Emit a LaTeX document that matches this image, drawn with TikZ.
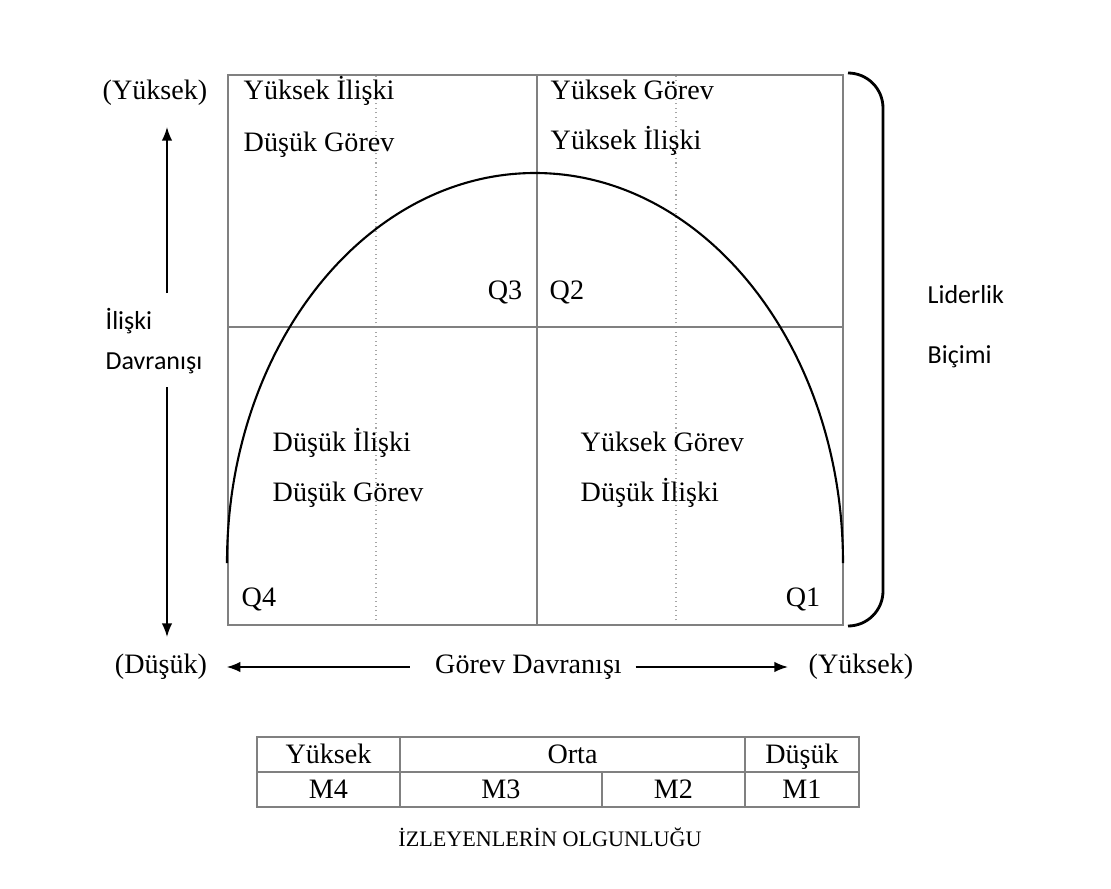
\documentclass[tikz,border=0pt]{standalone}
\usepackage{fontspec}
\setmainfont{Liberation Serif}
\newfontfamily\calfont{Carlito}
\usetikzlibrary{arrows.meta}

\begin{document}
\begin{tikzpicture}[
    metin/.style={inner sep=0pt, text height=2ex, text depth=1.15ex, font=\fontsize{8}{9.6}\selectfont},
    sans/.style={inner sep=0pt, text height=2ex, text depth=0.55ex, font=\calfont\fontsize{7.4}{9}\selectfont},
    ok/.style={line width=0.45pt, -{Latex[length=3.9pt,width=3pt]}},
    cizgi/.style={line width=0.6pt, black!50},
    nokta/.style={densely dotted, line width=0.3pt, black!35}
]
    \useasboundingbox (0,0) rectangle (11.11,8.88);

    % noktali cizgiler
    \draw[nokta] (3.76,2.63) -- (3.76,8.13);
    \draw[nokta] (6.76,2.63) -- (6.76,8.13);

    % kutu
    \draw[cizgi] (2.28,2.63) rectangle (8.43,8.13);
    \draw[cizgi] (5.37,2.63) -- (5.37,8.13);
    \draw[cizgi] (2.28,5.61) -- (8.43,5.61);

    % egri
    \draw[line width=0.6pt] (2.27,3.25) arc[start angle=180, end angle=0, x radius=3.08, y radius=3.90];

    % ayrac
    \draw[line width=0.8pt, rounded corners=0.35cm] (8.48,8.15) -- (8.83,8.15) -- (8.83,2.62) -- (8.48,2.62);

    % bolge yazilari
    \node[metin, anchor=west] (q3a) at (2.43,7.95) {Yüksek İlişki};
    \node[metin, anchor=west] (q3b) at (2.43,7.43) {Düşük Görev};
    \node[metin, anchor=west] (q2a) at (5.50,7.95) {Yüksek Görev};
    \node[metin, anchor=west] (q2b) at (5.50,7.45) {Yüksek İlişki};
    \node[metin, anchor=west] (q4a) at (2.72,4.43) {Düşük İlişki};
    \node[metin, anchor=west] (q4b) at (2.72,3.93) {Düşük Görev};
    \node[metin, anchor=west] (q1a) at (5.80,4.43) {Yüksek Görev};
    \node[metin, anchor=west] (q1b) at (5.80,3.93) {Düşük İlişki};

    \node[metin, anchor=east] (Q3) at (5.23,5.95) {Q3};
    \node[metin, anchor=west] (Q2) at (5.49,5.95) {Q2};
    \node[metin, anchor=west] (Q4) at (2.41,2.88) {Q4};
    \node[metin, anchor=east] (Q1) at (8.21,2.88) {Q1};

    % dikey eksen
    \node[metin] (yuksekS) at (1.55,7.95) {(Yüksek)};
    \node[sans, anchor=west] (iliski) at (1.05,5.70) {İlişki};
    \node[sans, anchor=west] (davranis) at (1.05,5.30) {Davranışı};
    \node[metin] (dusukS) at (1.61,2.21) {(Düşük)};
    \coordinate (ustA) at (1.67,5.95);
    \coordinate (ustB) at (1.67,7.61);
    \coordinate (altA) at (1.67,5.01);
    \coordinate (altB) at (1.67,2.51);
    \draw[ok] (ustA) -- (ustB);
    \draw[ok] (altA) -- (altB);

    % yatay eksen
    \node[metin] (gorev) at (5.285,2.21) {Görev Davranışı};
    \node[metin] (yuksekY) at (8.61,2.21) {(Yüksek)};
    \draw[ok] ([xshift=-7pt]gorev.west) -- ([xshift=5.4pt]dusukS.east);
    \draw[ok] ([xshift=3.7pt]gorev.east) -- ([xshift=-5.7pt]yuksekY.west);

    % liderlik
    \node[sans, anchor=west] (lider) at (9.27,5.96) {Liderlik};
    \node[sans, anchor=west] (bicim) at (9.27,5.36) {Biçimi};

    % tablo
    \draw[cizgi] (2.57,0.81) rectangle (8.59,1.51);
    \draw[cizgi] (2.57,1.16) -- (8.59,1.16);
    \draw[cizgi] (4.00,0.81) -- (4.00,1.51);
    \draw[cizgi] (7.45,0.81) -- (7.45,1.51);
    \draw[cizgi] (6.02,0.81) -- (6.02,1.16);

    \node[metin] (t1) at (3.285,1.31) {Yüksek};
    \node[metin] (t2) at (5.725,1.31) {Orta};
    \node[metin] (t3) at (8.02,1.31) {Düşük};
    \node[metin] (m4) at (3.285,0.96) {M4};
    \node[metin] (m3) at (5.01,0.96) {M3};
    \node[metin] (m2) at (6.735,0.96) {M2};
    \node[metin] (m1) at (8.02,0.96) {M1};

    \node[metin, font=\fontsize{6.3}{7.5}\selectfont] (olgun) at (5.50,0.48) {İZLEYENLERİN OLGUNLUĞU};
\end{tikzpicture}
\end{document}
